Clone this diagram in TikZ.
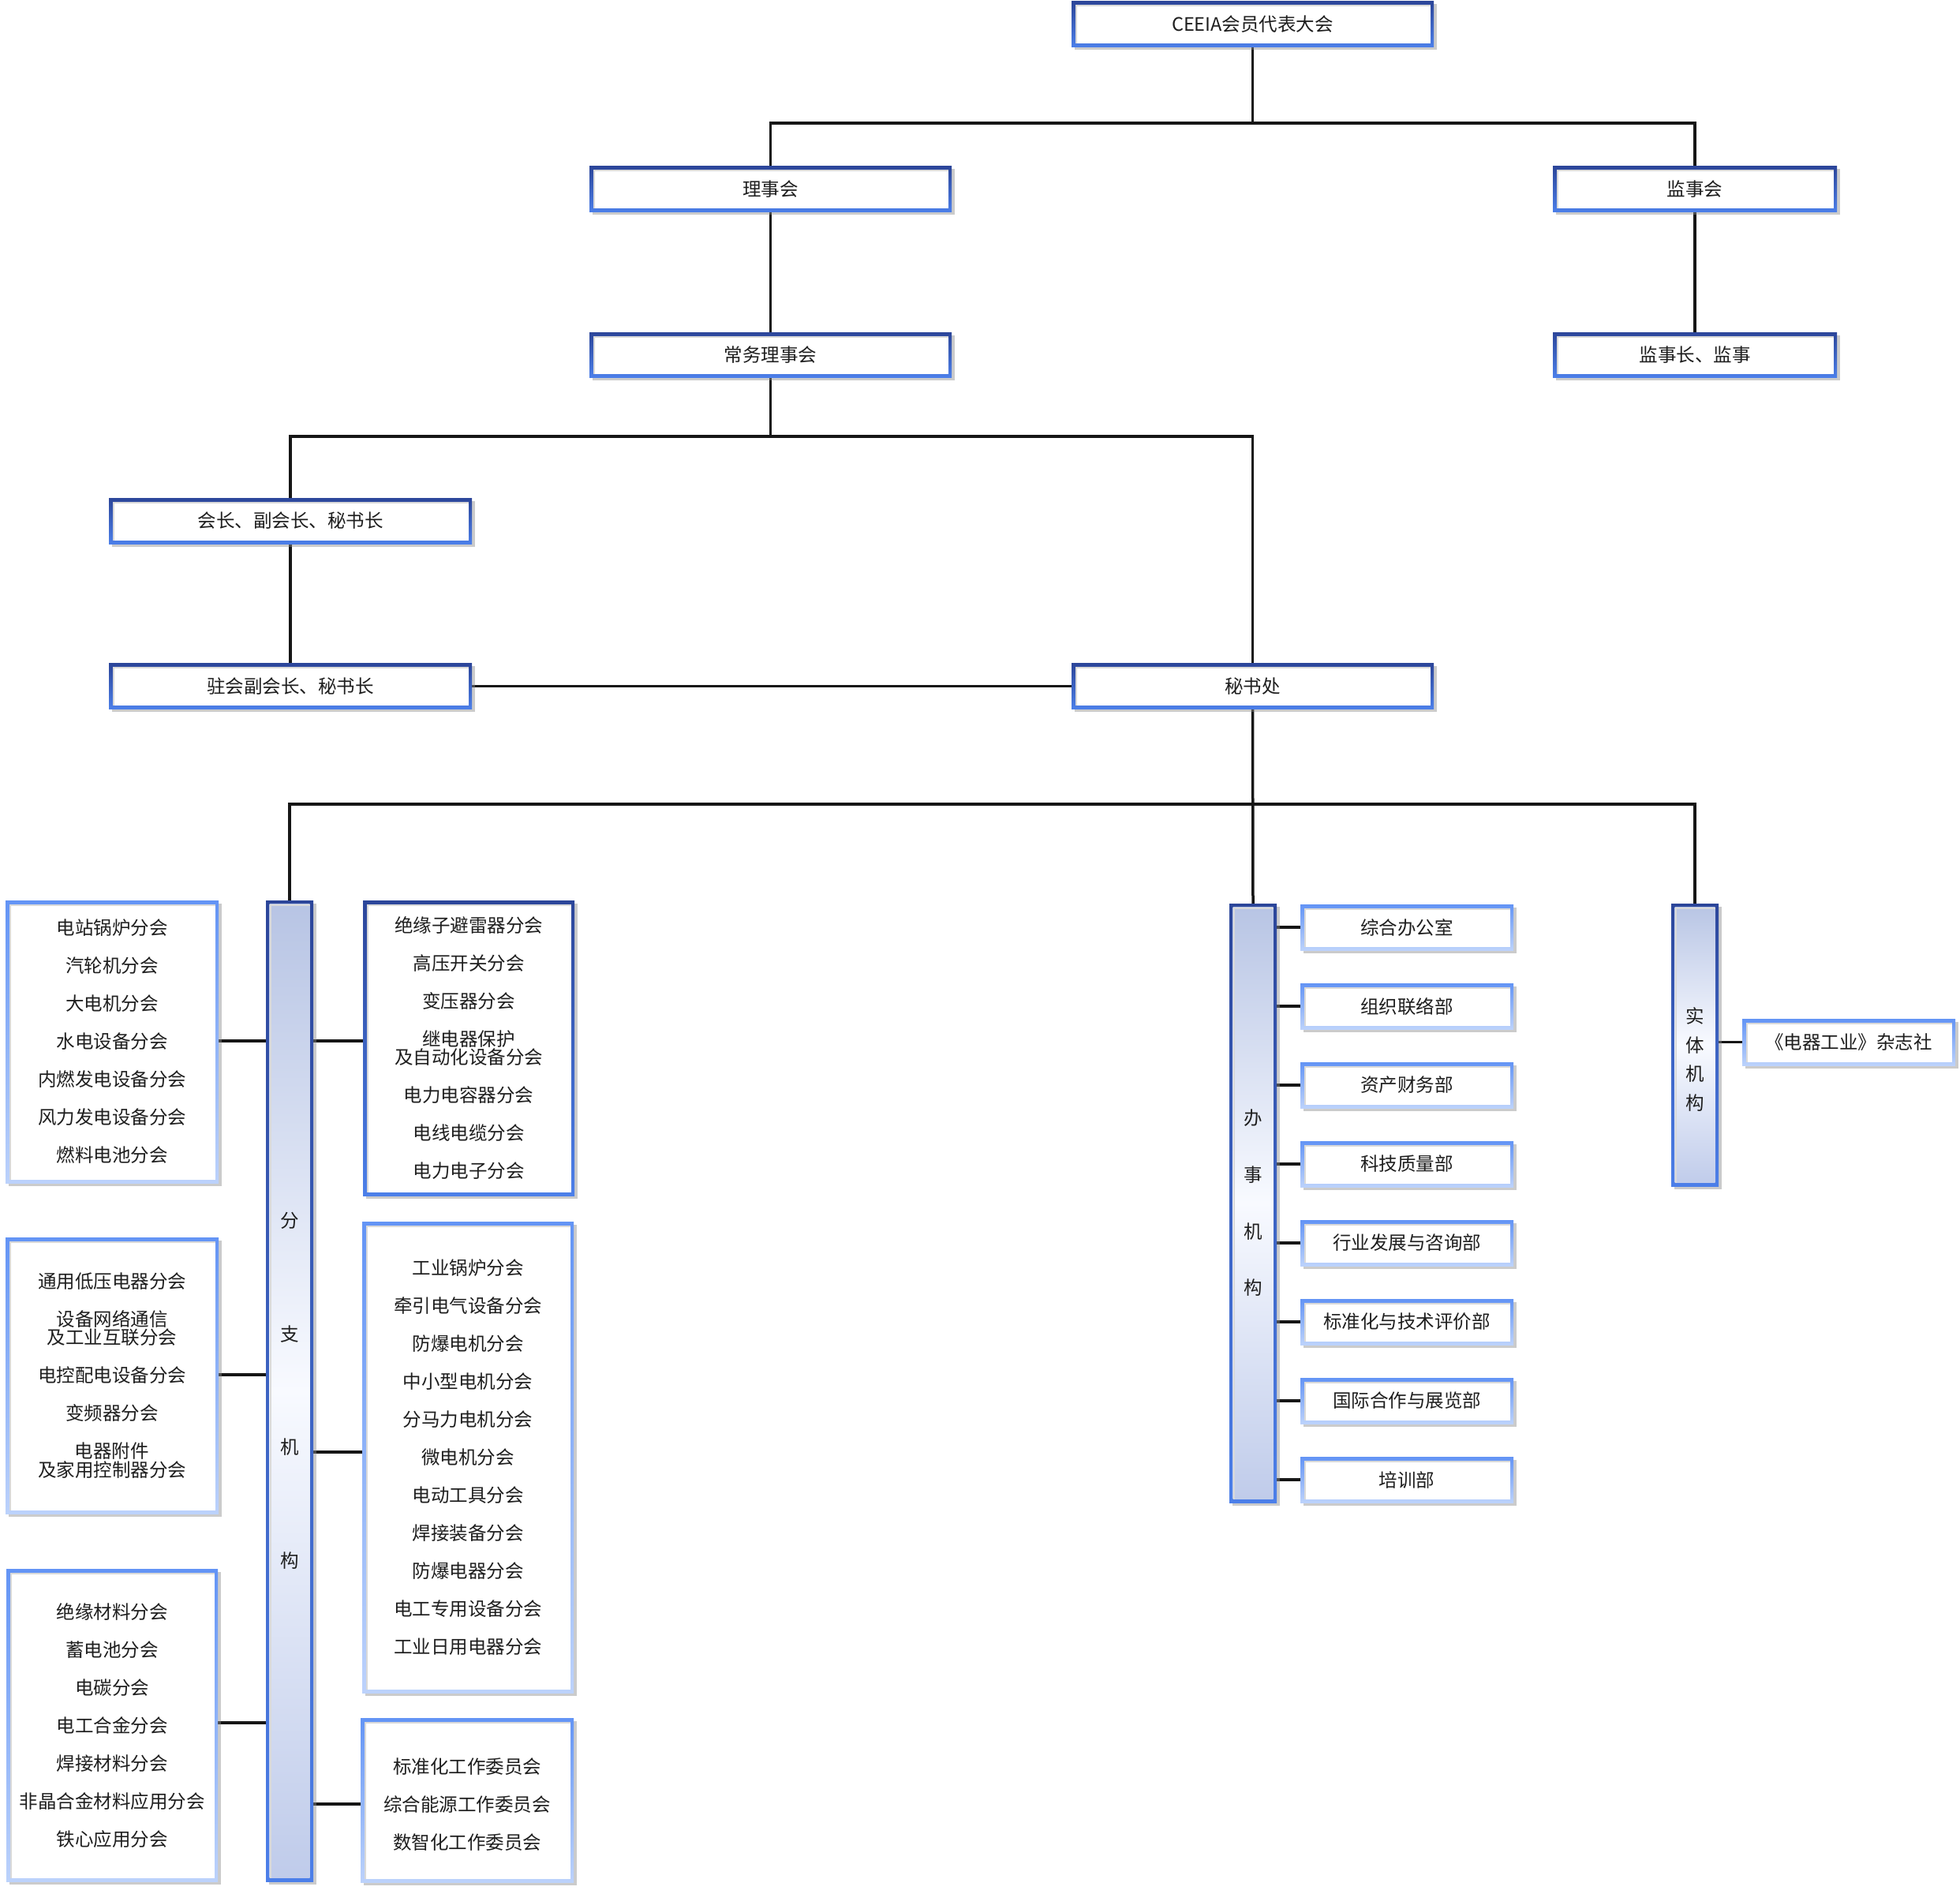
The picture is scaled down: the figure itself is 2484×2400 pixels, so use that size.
\documentclass[tikz,border=0pt]{standalone}
\usepackage{fontspec}
\setmainfont{Noto Sans CJK SC}
\usetikzlibrary{shadows,backgrounds}
\definecolor{bdAt}{HTML}{2C469A}
\definecolor{bdAb}{HTML}{4C7FE9}
\definecolor{bdBt}{HTML}{6394F5}
\definecolor{bdBb}{HTML}{BCD2FB}
\definecolor{barT}{HTML}{B7C4E4}
\definecolor{barM}{HTML}{F8FAFF}
\definecolor{barB}{HTML}{BFCBEA}
\definecolor{txt}{HTML}{1E1E1E}
\definecolor{ln}{HTML}{161616}
\newcommand\itemgap{\\[24.5pt]}
\newcommand\fsA{\fontsize{23.5pt}{23.5pt}\selectfont}
\newcommand\fsB{\fontsize{23.5pt}{143.5pt}\selectfont}
\newcommand\fsC{\fontsize{23.5pt}{71.7pt}\selectfont}
\newcommand\fsD{\fontsize{23.5pt}{36.4pt}\selectfont}
\tikzset{
  base/.style={rectangle, inner sep=0pt, align=center, text=txt, font=\fsA,
    drop shadow={shadow xshift=3.5pt, shadow yshift=-3.5pt, fill=black!45, opacity=0.45}},
  boxA/.style={base, top color=bdAt, bottom color=bdAb,
    path picture={\fill[white] ([shift={(4.5pt,-4.5pt)}]path picture bounding box.north west) rectangle ([shift={(-4.5pt,4.5pt)}]path picture bounding box.south east);
      \draw[black!15, line width=2pt] ([shift={(5.5pt,4.5pt)}]path picture bounding box.south west) |- ([shift={(-4.5pt,-5.5pt)}]path picture bounding box.north east);}},
  boxB/.style={base, top color=bdBt, bottom color=bdBb,
    path picture={\fill[white] ([shift={(4.5pt,-4.5pt)}]path picture bounding box.north west) rectangle ([shift={(-4.5pt,4.5pt)}]path picture bounding box.south east);
      \draw[black!15, line width=2pt] ([shift={(5.5pt,4.5pt)}]path picture bounding box.south west) |- ([shift={(-4.5pt,-5.5pt)}]path picture bounding box.north east);}},
  barbox/.style={base, top color=bdAt, bottom color=bdAb,
    path picture={\shade[top color=barT, bottom color=barB, middle color=barM] ([shift={(4.5pt,-4.5pt)}]path picture bounding box.north west) rectangle ([shift={(-4.5pt,4.5pt)}]path picture bounding box.south east);
      \draw[black!15, line width=2pt] ([shift={(5.5pt,4.5pt)}]path picture bounding box.south west) |- ([shift={(-4.5pt,-5.5pt)}]path picture bounding box.north east);}},
  conn/.style={draw=ln, line width=3.5pt},
}
\begin{document}
\lineskiplimit=-100pt
\begin{tikzpicture}[x=1pt, y=-1pt]
% top levels
\node[boxA, minimum width=459pt, minimum height=58pt] (ceeia) at (1587.5,31) {CEEIA会员代表大会};
\node[boxA, minimum width=459pt, minimum height=58pt] (lsh) at (976.5,240) {理事会};
\node[boxA, minimum width=360pt, minimum height=58pt] (jsh) at (2148,240) {监事会};
\node[boxA, minimum width=459pt, minimum height=57pt] (cwlsh) at (976.5,449.5) {常务理事会};
\node[boxA, minimum width=360pt, minimum height=57pt] (jszj) at (2148,449.5) {监事长、监事};
\node[boxA, minimum width=460pt, minimum height=58pt] (hz) at (368,660) {会长、副会长、秘书长};
\node[boxA, minimum width=460pt, minimum height=58pt] (zh) at (368,869.5) {驻会副会长、秘书长};
\node[boxA, minimum width=459pt, minimum height=58pt] (msc) at (1587.5,869.5) {秘书处};
% branch column
\node[barbox, minimum width=60pt, minimum height=1243pt, font=\fsB] (bar1) at (367,1762.5) {分\\支\\机\\构};
\node[boxB, minimum width=270pt, minimum height=358pt] (lb1) at (142,1320)
  {电站锅炉分会\itemgap 汽轮机分会\itemgap 大电机分会\itemgap 水电设备分会\itemgap 内燃发电设备分会\itemgap 风力发电设备分会\itemgap 燃料电池分会};
\node[boxA, minimum width=268pt, minimum height=374pt] (rb1) at (594,1328)
  {绝缘子避雷器分会\itemgap 高压开关分会\itemgap 变压器分会\itemgap 继电器保护\\及自动化设备分会\itemgap 电力电容器分会\itemgap 电线电缆分会\itemgap 电力电子分会};
\node[boxB, minimum width=270pt, minimum height=350pt] (lb2) at (142,1743)
  {通用低压电器分会\itemgap 设备网络通信\\及工业互联分会\itemgap 电控配电设备分会\itemgap 变频器分会\itemgap 电器附件\\及家用控制器分会};
\node[boxB, minimum width=268pt, minimum height=597pt] (rb2) at (593,1846.5)
  {工业锅炉分会\itemgap 牵引电气设备分会\itemgap 防爆电机分会\itemgap 中小型电机分会\itemgap 分马力电机分会\itemgap 微电机分会\itemgap 电动工具分会\itemgap 焊接装备分会\itemgap 防爆电器分会\itemgap 电工专用设备分会\itemgap 工业日用电器分会};
\node[boxB, minimum width=268pt, minimum height=396pt] (lb3) at (142,2186)
  {绝缘材料分会\itemgap 蓄电池分会\itemgap 电碳分会\itemgap 电工合金分会\itemgap 焊接材料分会\itemgap 非晶合金材料应用分会\itemgap 铁心应用分会};
\node[boxB, minimum width=270pt, minimum height=208pt,
  label={[align=center, text=txt, font=\fsA, yshift=-6pt]center:标准化工作委员会\itemgap 综合能源工作委员会\itemgap 数智化工作委员会}] (rb3) at (592,2281) {};
% office column
\node[barbox, minimum width=60pt, minimum height=759pt, font=\fsC] (bar2) at (1588,1524.5) {办\\事\\机\\构};
\foreach \i/\t in {1/综合办公室,2/组织联络部,3/资产财务部,4/科技质量部,5/行业发展与咨询部,6/标准化与技术评价部,7/国际合作与展览部,8/培训部}
  \node[boxB, minimum width=270pt, minimum height=58pt] (ob\i) at (1783,{1175+100*(\i-1)}) {\t};
% entity column
\node[barbox, minimum width=60pt, minimum height=358pt,
  label={[align=center, text=txt, font=\fsD, yshift=-18.5pt]center:实\\体\\机\\构}] (bar3) at (2148,1324) {};
\node[boxB, minimum width=270pt, minimum height=59pt] (mag) at (2343,1320.5) {《电器工业》杂志社};
% connectors
\begin{pgfonlayer}{background}
\fill[white] (0,0) rectangle (2484,2400);
\coordinate (y1) at (0,156);
\coordinate (y2) at (0,553);
\coordinate (y3) at (0,1019);
\draw[conn] (ceeia.south) -- (ceeia.south |- y1);
\draw[conn] (lsh.north) -- (lsh.north |- y1) -- (jsh.north |- y1) -- (jsh.north);
\draw[conn] (lsh.south) -- (cwlsh.north);
\draw[conn] (jsh.south) -- (jszj.north);
\draw[conn] (cwlsh.south) -- (cwlsh.south |- y2);
\draw[conn] (hz.north) -- (hz.north |- y2) -- (msc.north |- y2) -- (msc.north);
\draw[conn] (hz.south) -- (zh.north);
\draw[conn] (zh.east) -- (msc.west);
\draw[conn] (msc.south) -- (bar2.north);
\draw[conn] (bar1.north) -- (bar1.north |- y3) -- (bar3.north |- y3) -- (bar3.north);
\coordinate (c1) at (0,1319);
\coordinate (c2) at (0,1742);
\coordinate (c3) at (0,1840);
\coordinate (c4) at (0,2183);
\coordinate (c5) at (0,2286);
\draw[conn] (lb1.east |- c1) -- (bar1.west |- c1);
\draw[conn] (bar1.east |- c1) -- (rb1.west |- c1);
\draw[conn] (lb2.east |- c2) -- (bar1.west |- c2);
\draw[conn] (bar1.east |- c3) -- (rb2.west |- c3);
\draw[conn] (lb3.east |- c4) -- (bar1.west |- c4);
\draw[conn] (bar1.east |- c5) -- (rb3.west |- c5);
\foreach \i in {1,...,8} \draw[conn] (bar2.east |- ob\i.west) -- (ob\i.west);
\draw[conn] (bar3.east |- mag.west) -- (mag.west);
\end{pgfonlayer}
\end{tikzpicture}
\end{document}
